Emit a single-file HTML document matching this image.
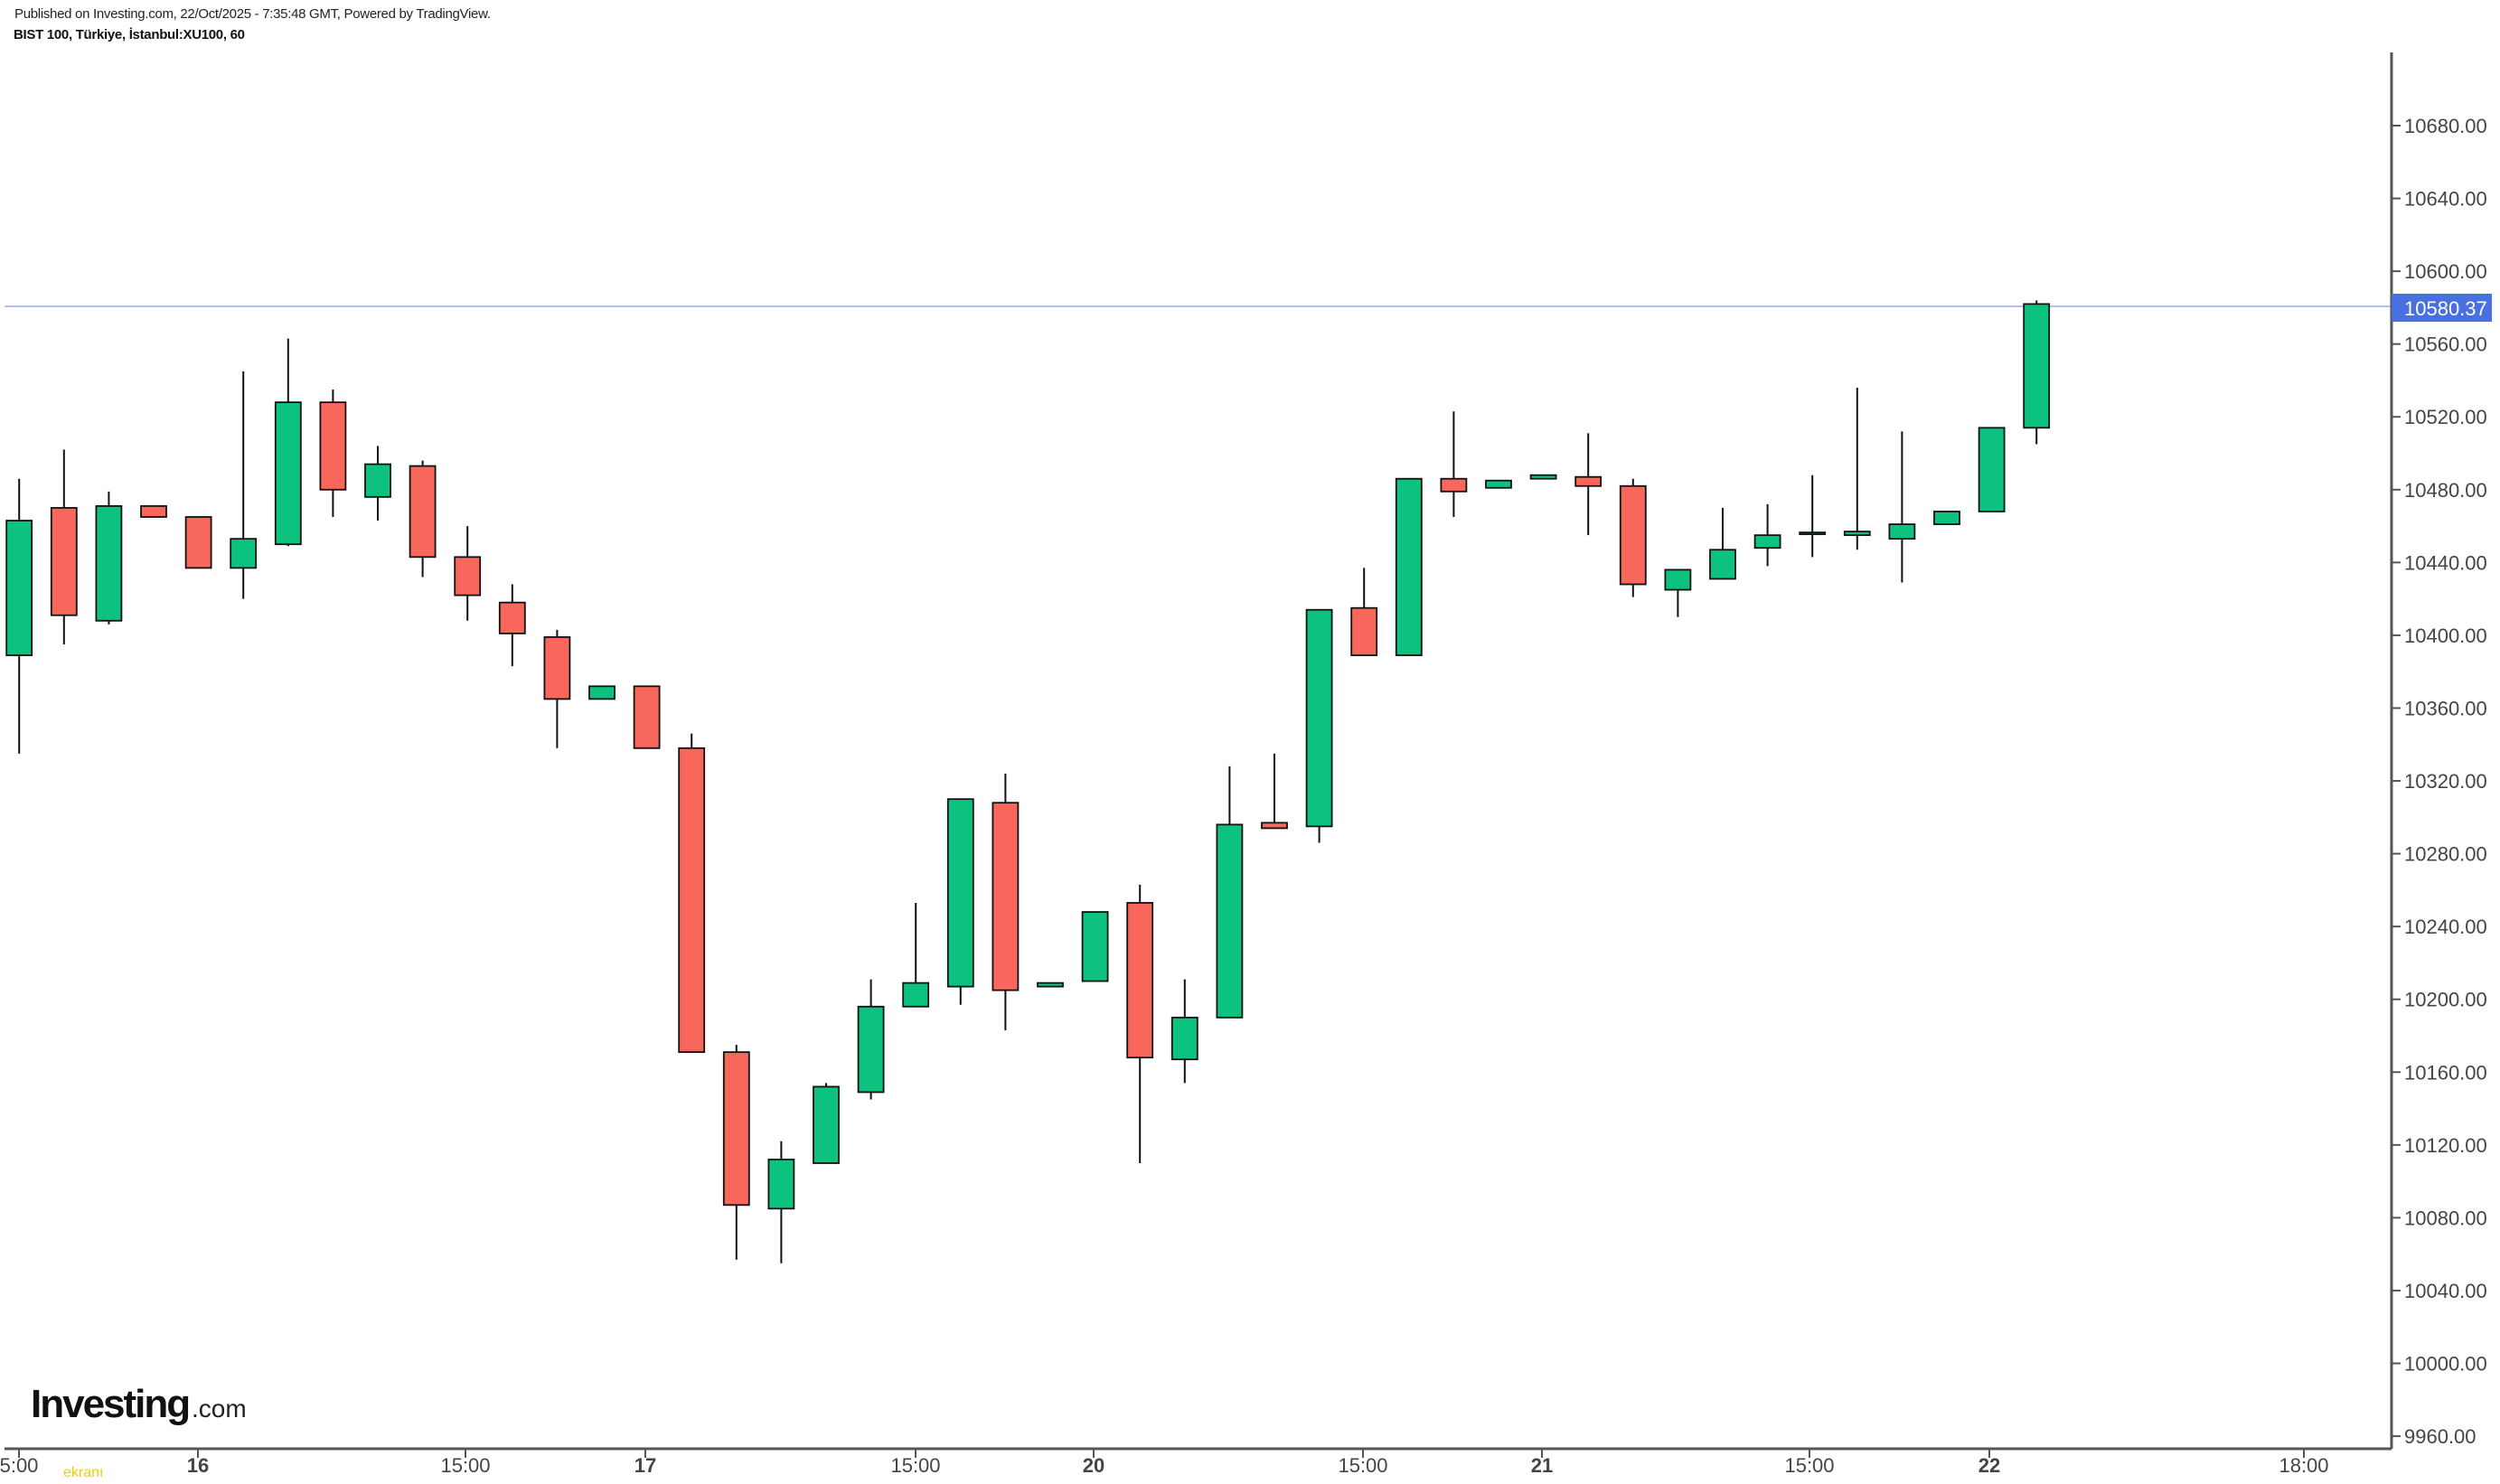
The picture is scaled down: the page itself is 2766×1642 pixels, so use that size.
<!DOCTYPE html>
<html><head><meta charset="utf-8">
<style>
html,body{margin:0;padding:0;background:#fff;}
body{width:2766px;height:1642px;position:relative;overflow:hidden;font-family:"Liberation Sans",sans-serif;}
.h1{position:absolute;left:16px;top:7px;font-size:15px;color:#222;letter-spacing:-0.3px;}
.h2{position:absolute;left:15px;top:30px;font-size:15px;font-weight:bold;color:#111;letter-spacing:-0.3px;}
</style></head><body>
<div class="h1">Published on Investing.com, 22/Oct/2025 - 7:35:48 GMT, Powered by TradingView.</div>
<div class="h2">BIST 100, Türkiye, İstanbul:XU100, 60</div>
<svg id="s" width="2766" height="1642" style="position:absolute;left:0;top:0" xmlns="http://www.w3.org/2000/svg">
<line x1="5" y1="339" x2="2646" y2="339" stroke="#9aa8f0" stroke-width="1.5"/>
<g id="c"></g>
<line x1="2646" y1="58" x2="2646" y2="1603" stroke="#555" stroke-width="3"/>
<line x1="5" y1="1603" x2="2646" y2="1603" stroke="#555" stroke-width="3"/>
<g id="yt" font-size="22" fill="#444" font-family="Liberation Sans, sans-serif"></g>
<g id="xt" font-size="22" fill="#444" font-family="Liberation Sans, sans-serif">
<text x="21" y="1629" text-anchor="middle">5:00</text>
<text x="219" y="1629" text-anchor="middle" font-weight="bold">16</text>
<text x="515" y="1629" text-anchor="middle">15:00</text>
<text x="714" y="1629" text-anchor="middle" font-weight="bold">17</text>
<text x="1013" y="1629" text-anchor="middle">15:00</text>
<text x="1210" y="1629" text-anchor="middle" font-weight="bold">20</text>
<text x="1508" y="1629" text-anchor="middle">15:00</text>
<text x="1706" y="1629" text-anchor="middle" font-weight="bold">21</text>
<text x="2002" y="1629" text-anchor="middle">15:00</text>
<text x="2201" y="1629" text-anchor="middle" font-weight="bold">22</text>
<text x="2549" y="1629" text-anchor="middle">18:00</text>
</g>
<rect x="2646" y="325" width="111" height="31" fill="#4a6fe0"/>
<text x="2660" y="349" font-size="22" fill="#fff" font-family="Liberation Sans, sans-serif">10580.37</text>
<text x="34" y="1568" font-size="44" font-weight="bold" fill="#111" font-family="Liberation Sans, sans-serif" letter-spacing="-2">Investing</text>
<text x="212" y="1568" font-size="28" fill="#222" font-family="Liberation Sans, sans-serif">.com</text>
<text x="70" y="1634" font-size="16" fill="#e6d400" font-family="Liberation Sans, sans-serif">ekranı</text>
</svg>
<script>
var d=[[10389,10463,10486,10335],[10470,10411,10502,10395],[10408,10471,10479,10406],[10471,10465,0,0],[10465,10437,0,0],
[10437,10453,10545,10420],[10450,10528,10563,10449],[10528,10480,10535,10465],[10476,10494,10504,10463],[10493,10443,10496,10432],
[10443,10422,10460,10408],[10418,10401,10428,10383],[10399,10365,10403,10338],[10365,10372,0,0],[10372,10338,0,0],
[10338,10171,10346,0],[10171,10087,10175,10057],[10085,10112,10122,10055],[10110,10152,10154,0],[10149,10196,10211,10145],
[10196,10209,10253,0],[10207,10310,0,10197],[10308,10205,10324,10183],[10207,10209,0,0],[10210,10248,0,0],
[10253,10168,10263,10110],[10167,10190,10211,10154],[10190,10296,10328,0],[10297,10294,10335,0],[10295,10414,0,10286],
[10415,10389,10437,0],[10389,10486,0,0],[10486,10479,10523,10465],[10481,10485,0,0],[10486,10488,0,0],
[10487,10482,10511,10455],[10482,10428,10486,10421],[10425,10436,0,10410],[10431,10447,10470,0],[10448,10455,10472,10438],
[10456,10456.5,10488,10443],[10455,10457,10536,10447],[10453,10461,10512,10429],[10461,10468,0,0],[10468,10514,0,0],[10514,10582,10584,10505]];
function Y(p){return 139+(10680-p)*2.014;}
var h='';
d.forEach(function(c,i){var x=21.2+49.6*i,o=c[0],cl=c[1],top=Math.max(o,cl),bot=Math.min(o,cl);
var hi=c[2]||top,lo=c[3]||bot;
h+='<line x1="'+x+'" y1="'+Y(hi)+'" x2="'+x+'" y2="'+Y(lo)+'" stroke="#111" stroke-width="2"/>';
var yt=Y(top),hh=Math.max(Y(bot)-yt,2);
h+='<rect x="'+(x-14)+'" y="'+yt+'" width="28" height="'+hh+'" fill="'+(cl>=o?'#0cc27e':'#f7675b')+'" stroke="#111" stroke-width="1.8"/>';});
document.getElementById('c').innerHTML=h;
var t='';for(var p=10680;p>=9960;p-=40){var y=Y(p);
t+='<line x1="2646" y1="'+y+'" x2="2656" y2="'+y+'" stroke="#555" stroke-width="2"/><text x="2660" y="'+(y+8)+'">'+p+'.00</text>';}
document.getElementById('yt').innerHTML=t;
var xs=[21,219,515,714,1013,1210,1508,1706,2002,2201,2549],g='';
xs.forEach(function(x){g+='<line x1="'+x+'" y1="1603" x2="'+x+'" y2="1613" stroke="#555" stroke-width="2"/>';});
document.getElementById('xt').innerHTML+=g;
</script>
</body></html>
